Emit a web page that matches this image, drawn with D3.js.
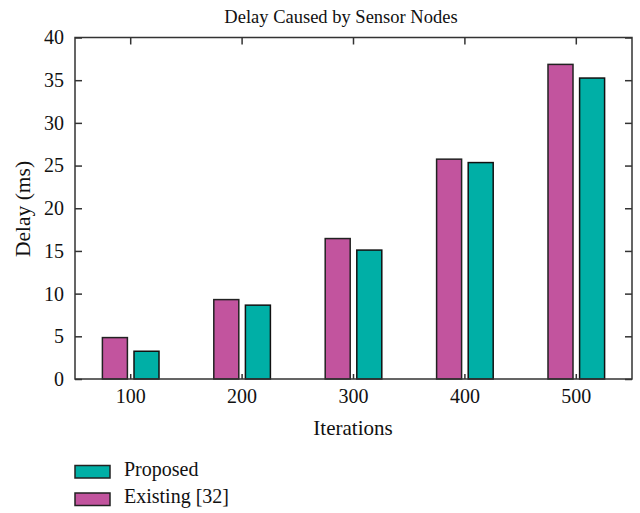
<!DOCTYPE html>
<html><head><meta charset="utf-8">
<script src="https://cdn.jsdelivr.net/npm/d3@7"></script>
<style>body{margin:0;background:#fff}text{font-family:"Liberation Serif","DejaVu Serif",serif;fill:#111}</style>
</head><body><svg id="c" width="640" height="513"></svg>
<script>
const categories = ["100","200","300","400","500"];
const existing = [4.85, 9.3, 16.45, 25.75, 36.85];
const proposed = [3.25, 8.65, 15.1, 25.35, 35.25];
const yTicks = [0,5,10,15,20,25,30,35,40];
const seriesNames = ["Proposed","Existing [32]"];
const colors = {existing:"#C2549E", proposed:"#00AFA6"};

const svg = d3.select("#c");
const L=75, R=632, T=37.5, B=379;
const x = d3.scaleBand().domain(categories).range([L,R]).padding(0);
const y = d3.scaleLinear().domain([0,40]).range([B,T]);
const bw = 25, gap = 3.3;

const g = svg.append("g");
categories.forEach((c,i)=>{
  const cx = x(c)+x.bandwidth()/2;
  g.append("rect").attr("x",cx-gap-bw).attr("y",y(existing[i])).attr("width",bw).attr("height",y(0)-y(existing[i]))
    .attr("fill",colors.existing).attr("stroke","#222").attr("stroke-width",1.5);
  g.append("rect").attr("x",cx+gap).attr("y",y(proposed[i])).attr("width",bw).attr("height",y(0)-y(proposed[i]))
    .attr("fill",colors.proposed).attr("stroke","#111").attr("stroke-width",1.5);
});

svg.append("rect").attr("x",L).attr("y",T).attr("width",R-L).attr("height",B-T).attr("fill","none").attr("stroke","#333").attr("stroke-width",1.5);

const la = svg.append("g").attr("transform",`translate(${L},0)`).call(d3.axisLeft(y).tickValues(yTicks).tickSize(-7).tickPadding(11));
la.select(".domain").remove();
la.selectAll("line").attr("stroke","#333").attr("stroke-width",1.5);
la.selectAll("text").attr("font-size",20).attr("font-family","Liberation Serif").attr("fill","#111");
const ra = svg.append("g").attr("transform",`translate(${R},0)`).call(d3.axisRight(y).tickValues(yTicks).tickSize(-7).tickFormat(""));
ra.select(".domain").remove();
ra.selectAll("line").attr("stroke","#333").attr("stroke-width",1.5);

const ba = svg.append("g").attr("transform",`translate(0,${B})`).call(d3.axisBottom(x).tickSize(-5).tickPadding(10));
ba.select(".domain").remove();
ba.selectAll("line").attr("stroke","#333").attr("stroke-width",1.5);
ba.selectAll("text").attr("font-size",20).attr("font-family","Liberation Serif").attr("fill","#111");
const ta = svg.append("g").attr("transform",`translate(0,${T})`).call(d3.axisTop(x).tickSize(-7).tickFormat(""));
ta.select(".domain").remove();
ta.selectAll("line").attr("stroke","#333").attr("stroke-width",1.5);

svg.append("text").attr("x",341).attr("y",23).attr("text-anchor","middle").attr("font-size",18.5).text("Delay Caused by Sensor Nodes");
svg.append("text").attr("x",353).attr("y",435).attr("text-anchor","middle").attr("font-size",21).text("Iterations");
svg.append("text").attr("transform","translate(30,209) rotate(-90)").attr("text-anchor","middle").attr("font-size",21.5).attr("fill","#222").text("Delay (ms)");

const leg = [[seriesNames[0],colors.proposed],[seriesNames[1],colors.existing]];
leg.forEach((d,i)=>{
  const yy = 465.5 + i*27.5;
  svg.append("rect").attr("x",75).attr("y",yy).attr("width",35).attr("height",12.5).attr("fill",d[1]).attr("stroke","#222").attr("stroke-width",1.5);
  svg.append("text").attr("x",124).attr("y",yy+10).attr("font-size",20).text(d[0]);
});
</script></body></html>
